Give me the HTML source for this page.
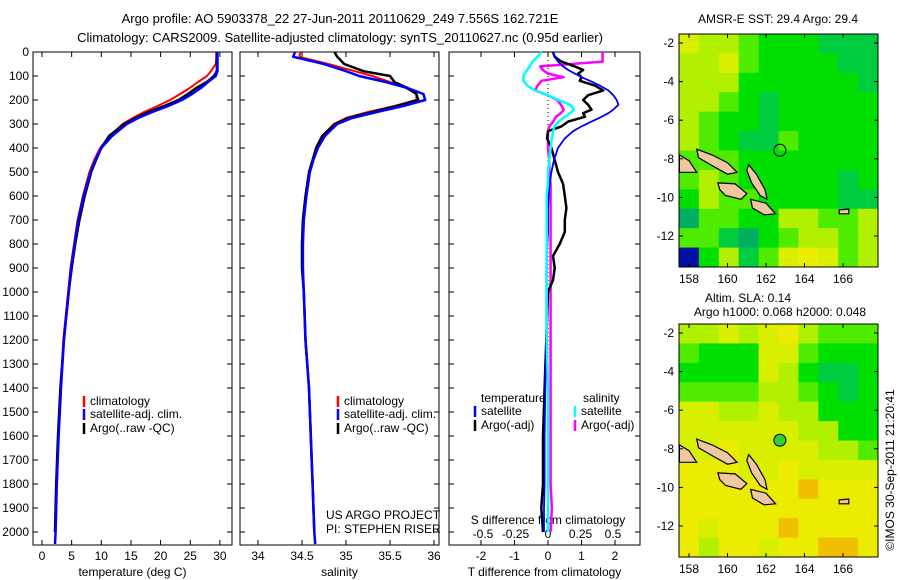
<!DOCTYPE html>
<html><head><meta charset="utf-8">
<style>
body{margin:0;background:#fff;}
svg{display:block;font-family:"Liberation Sans",sans-serif;font-size:12px;}
</style></head>
<body>
<svg id="c" width="900" height="580" viewBox="0 0 900 580">
<text x="340" y="23" text-anchor="middle" font-size="13">Argo profile: AO 5903378_22 27-Jun-2011 20110629_249 7.556S 162.721E</text>
<text x="340" y="42" text-anchor="middle" font-size="13">Climatology: CARS2009. Satellite-adjusted climatology: synTS_20110627.nc (0.95d earlier)</text>
<text x="778" y="23" text-anchor="middle">AMSR-E SST: 29.4  Argo: 29.4</text>
<text x="748" y="302" text-anchor="middle">Altim. SLA: 0.14</text>
<text x="780" y="316" text-anchor="middle">Argo h1000: 0.068 h2000: 0.048</text>
<text transform="translate(894,470) rotate(-90)" text-anchor="middle">©IMOS 30-Sep-2011 21:20:41</text>
</svg>
<script>
// ---- data ----
const depths = [0,20,50,80,100,125,150,175,200,225,250,275,300,350,400,450,500,600,700,800,900,1000,1200,1400,1600,1800,2000,2050];
const climT = [29.4,29.4,29.3,28.5,27.8,26.3,24.9,23.3,21.6,19.5,17.2,15.3,13.6,11.4,9.8,8.8,8.0,6.9,6.0,5.4,4.8,4.4,3.6,3.2,2.8,2.5,2.3,2.2];
const satT = [29.6,29.6,29.6,29.6,29.3,28.0,26.8,25.3,23.6,21.3,18.6,16.2,14.3,11.8,10.0,9.0,8.2,7.0,6.1,5.5,4.9,4.5,3.7,3.2,2.8,2.5,2.3,2.2];
const argoT = [29.5,29.5,29.5,29.5,29.0,27.8,26.0,24.6,23.0,20.6,18.0,15.8,13.9,11.3,10.0,9.1,8.3,7.2,6.3,5.6,5.0,4.5,3.7,3.1,2.7,2.4,2.2,null];
const climS = [34.48,34.47,34.8,35.1,35.3,35.5,35.68,35.8,35.8,35.55,35.25,35.0,34.86,34.73,34.66,34.62,34.58,34.54,34.52,34.51,34.51,34.52,34.54,34.58,34.6,34.62,34.64,34.65];
const satS = [34.42,34.4,34.75,35.0,35.15,35.45,35.7,35.88,35.9,35.65,35.35,35.07,34.9,34.76,34.68,34.63,34.59,34.55,34.52,34.51,34.51,34.52,34.54,34.58,34.6,34.62,34.64,34.65];
const argoS = [34.87,34.9,34.98,35.2,35.5,35.55,35.7,35.8,35.82,35.58,35.3,35.03,34.88,34.73,34.66,34.62,34.58,34.54,34.51,34.5,34.5,34.52,34.54,34.58,34.6,34.62,34.64,null];
const diffDepths = [0,20,40,60,75,90,105,120,140,160,180,200,220,240,255,270,290,310,330,360,400,450,500,550,600,650,700,750,800,850,900,950,1000,1200,1400,1600,1800,1900,2000];
const dTsat = [0.15,0.2,0.3,0.45,0.6,0.8,1.0,1.25,1.55,1.8,1.95,2.05,2.1,1.95,1.8,1.6,1.3,1.0,0.75,0.5,0.3,0.18,0.1,0.05,0.02,0,0,0,-0.02,-0.03,-0.05,-0.05,-0.05,-0.05,-0.08,-0.1,-0.1,-0.12,-0.12];
const dTargo = [0.15,0.2,0.4,0.8,1.05,0.9,1.0,0.95,1.4,1.65,1.2,1.05,1.2,1.3,1.05,1.1,0.6,0.4,0.0,-0.03,0.1,0.2,0.3,0.45,0.5,0.55,0.5,0.5,0.35,0.15,0.2,0.15,0,-0.05,-0.1,-0.15,-0.15,-0.2,-0.15];
const dSargo = [0.42,0.42,0.42,-0.06,-0.04,0.0,0.12,-0.05,-0.08,-0.1,0.0,0.07,0.1,0.12,0.1,0.06,0.04,0.01,0.0,0.0,0.0,0.01,0.01,0.02,0.02,0.02,0.02,0.02,0.02,0.02,0.02,0.02,0.02,0.02,0.02,0.02,0.02,0.03,0.02];
const dSsat = [-0.05,-0.08,-0.12,-0.14,-0.16,-0.18,-0.19,-0.19,-0.16,-0.1,0.0,0.08,0.17,0.2,0.17,0.13,0.08,0.05,0.04,0.03,0.02,0.01,0.0,0.0,-0.01,-0.01,-0.01,-0.01,-0.01,-0.01,-0.01,-0.01,-0.01,-0.01,0.0,0.0,0.0,0.0,0.0];
const depthTicks = [0,100,200,300,400,500,600,700,800,900,1000,1100,1200,1300,1400,1500,1600,1700,1800,1900,2000];
const tempTicks = [0,5,10,15,20,25,30];
const salTicks = ["34","34.5","35","35.5","36"];
const tdTicks = [-2,-1,0,1,2];
const sdTicks = ["-0.5","-0.25","0","0.25","0.5"];
const sstGrid = ["7665444333","6675444433","6664444443","6654344444","6544344444","6543354444","5554444444","5654444434","4655444433","2554466556","5532456656","0463578756"];
const slaGrid = ["6676786555","5444775444","4444764334","5555665434","7766766444","7777776644","7787777665","8887787777","8888889888","8888888888","8788898888","8688788998"];
const lonTicks = [158,160,162,164,166];
const latTicks = [-2,-4,-6,-8,-10,-12];
const argoLon = 162.721, argoLat = -7.556;

const S = document.getElementById('c');
const NS = 'http://www.w3.org/2000/svg';
function mk(tag, attrs, parent){const e=document.createElementNS(NS,tag);for(const k in attrs)e.setAttribute(k,attrs[k]);(parent||S).appendChild(e);return e;}

const top0=52, ppm=0.24, boxTop=52, boxBot=545;
const yD = d => top0 + d*ppm;

function panel(name,x0,x1,xfun,ticks,labels,xlabel,withY){
  const g=mk('g',{});
  
  
  const r=mk('rect',{x:x0,y:boxTop,width:x1-x0,height:boxBot-boxTop,fill:'#fff',stroke:'#000','stroke-width':1},g);
  
  
  ticks.forEach((t,i)=>{const x=xfun(+t);
    mk('line',{x1:x,x2:x,y1:boxBot,y2:boxBot-5,stroke:'#000'},g);
    mk('line',{x1:x,x2:x,y1:boxTop,y2:boxTop+5,stroke:'#000'},g);
    if(labels){const tx=mk('text',{x:x,y:boxBot+15,'text-anchor':'middle'},g);tx.textContent=labels[i];
      
      }
  });
  depthTicks.forEach(d=>{const y=yD(d);
    mk('line',{x1:x0,x2:x0+5,y1:y,y2:y,stroke:'#000'},g);
    mk('line',{x1:x1,x2:x1-5,y1:y,y2:y,stroke:'#000'},g);
    if(withY){const tx=mk('text',{x:x0-4,y:y+4,'text-anchor':'end'},g);tx.textContent=d;
      
      }
  });
  if(xlabel){const tx=mk('text',{x:(x0+x1)/2,y:576,'text-anchor':'middle'},g);tx.textContent=xlabel;
    
    }
  return g;
}
function line(g,name,dep,vals,xfun,color,w){
  let d='';
  vals.forEach((v,i)=>{if(v===null)return;d+=(d?'L':'M')+xfun(v).toFixed(1)+','+yD(dep[i]).toFixed(1);});
  const p=mk('path',{d:d,fill:'none',stroke:color,'stroke-width':w,'stroke-linejoin':'round'},g);
  
  
}
function legend(g,x,y,color,label){
  mk('line',{x1:x,x2:x,y1:y-9,y2:y+2,stroke:color,'stroke-width':2.5},g);
  const t=mk('text',{x:x+6,y:y},g);t.textContent=label;
  
  
}

const xT = v => 42 + v*5.93;
const p1 = panel('temperature-panel',33,232,xT,tempTicks,tempTicks,'temperature (deg C)',true);
line(p1,'temp-climatology-line',depths,climT,xT,'#f00',2);
line(p1,'temp-argo-line',depths,argoT,xT,'#000',2.5);
line(p1,'temp-satellite-line',depths,satT,xT,'#00f',2.5);
legend(p1,84,405,'#f00','climatology');
legend(p1,84,418,'#00f','satellite-adj. clim.');
legend(p1,84,432,'#000','Argo(..raw -QC)');

const xS = v => 258 + (v-34)*88;
const p2 = panel('salinity-panel',240,439,xS,salTicks,salTicks,'salinity',false);
line(p2,'sal-climatology-line',depths,climS,xS,'#f00',2);
line(p2,'sal-argo-line',depths,argoS,xS,'#000',2.5);
line(p2,'sal-satellite-line',depths,satS,xS,'#00f',2.5);
legend(p2,338,405,'#f00','climatology');
legend(p2,338,418,'#00f','satellite-adj. clim.');
legend(p2,338,432,'#000','Argo(..raw -QC)');
[['US ARGO PROJECT',519],['PI: STEPHEN RISER',533]].forEach(a=>{const t=mk('text',{x:326,y:a[1]},p2);t.textContent=a[0];
  
  });

const xDT = v => 548 + v*33.5;
const xDS = v => 548 + v*130;
const p3 = panel('difference-panel',449,640,xDT,tdTicks,tdTicks,'T difference from climatology',false);
mk('line',{x1:548,x2:548,y1:boxTop,y2:390,stroke:'#000','stroke-dasharray':'1,3'},p3);
sdTicks.forEach(t=>{const tx=mk('text',{x:xDS(+t),y:538,'text-anchor':'middle'},p3);tx.textContent=t;
  
  });
const st=mk('text',{x:548,y:524,'text-anchor':'middle'},p3);st.textContent='S difference from climatology';


line(p3,'s-diff-argo-line',diffDepths,dSargo,xDS,'#f0f',2.5);
line(p3,'t-diff-argo-line',diffDepths,dTargo,xDT,'#000',2.5);
line(p3,'t-diff-satellite-line',diffDepths,dTsat,xDT,'#00f',1.8);
line(p3,'s-diff-satellite-line',diffDepths,dSsat,xDS,'#0ff',2.5);
[['temperature',481],['salinity',583]].forEach(a=>{const t=mk('text',{x:a[1],y:402},p3);t.textContent=a[0];
  
  });
legend(p3,475,415,'#00f','satellite');
legend(p3,475,429,'#000','Argo(-adj)');
legend(p3,575,415,'#0ff','satellite');
legend(p3,575,429,'#f0f','Argo(-adj)');

const pal = ['#0010a0','#00c8c8','#00b060','#00cc40','#00e000','#50ec00','#b0f000','#d8f000','#ecec00','#f0c000'];
const islands = [
 [[157.5,-7.8],[158.0,-8.1],[158.4,-8.7],[157.5,-8.7]],
 [[158.4,-7.5],[159.2,-7.8],[160.0,-8.2],[160.5,-8.7],[160.0,-8.8],[159.2,-8.35],[158.5,-7.95]],
 [[161.1,-8.3],[161.5,-8.8],[161.95,-9.6],[162.05,-10.1],[161.7,-9.9],[161.25,-9.25],[161.0,-8.6]],
 [[159.5,-9.25],[160.4,-9.3],[161.0,-9.8],[160.7,-10.1],[159.9,-9.9],[159.6,-9.6]],
 [[161.2,-10.1],[162.0,-10.3],[162.5,-10.85],[161.9,-10.9],[161.3,-10.55]],
 [[165.8,-10.65],[166.3,-10.6],[166.3,-10.85],[165.8,-10.85]]
];
function map(name,boxY,yMinus2,grid,filledMarker){
  const L=679,R=878,T=boxY,B=boxY+233;
  const xL = lon => 689 + (lon-158)*19.25;
  const yL = lat => yMinus2 + (-2-lat)*19.3;
  const g=mk('g',{});
  
  
  const rows=grid.length, cols=grid[0].length, cw=(R-L)/cols, ch=(B-T)/rows;
  grid.forEach((row,r)=>{for(let c=0;c<cols;c++){
    const cell=mk('rect',{x:L+c*cw,y:T+r*ch,width:cw+0.5,height:ch+0.5,fill:pal[+row[c]]},g);
    
    }});
  islands.forEach(poly=>{const p=mk('polygon',{points:poly.map(q=>xL(q[0]).toFixed(1)+','+yL(q[1]).toFixed(1)).join(' '),fill:'#f0c8a0',stroke:'#000','stroke-width':1.2},g);
    
    });
  const m=mk('circle',{cx:xL(argoLon),cy:yL(argoLat),r:6,fill:filledMarker?'#30d030':'none',stroke:'#000','stroke-width':1},g);
  
  
  mk('rect',{x:L,y:T,width:R-L,height:B-T,fill:'none',stroke:'#000'},g);
  lonTicks.forEach(lon=>{const x=xL(lon);
    mk('line',{x1:x,x2:x,y1:B,y2:B-4,stroke:'#000'},g);mk('line',{x1:x,x2:x,y1:T,y2:T+4,stroke:'#000'},g);
    const t=mk('text',{x:x,y:B+16,'text-anchor':'middle'},g);t.textContent=lon;
    
    });
  latTicks.forEach(lat=>{const y=yL(lat);
    mk('line',{x1:L,x2:L+4,y1:y,y2:y,stroke:'#000'},g);mk('line',{x1:R,x2:R-4,y1:y,y2:y,stroke:'#000'},g);
    const t=mk('text',{x:L-5,y:y+4,'text-anchor':'end'},g);t.textContent=lat;
    
    });
}
map('sst-map',34,43,sstGrid,false);
map('sla-map',324,333,slaGrid,true);
</script>
</body></html>
